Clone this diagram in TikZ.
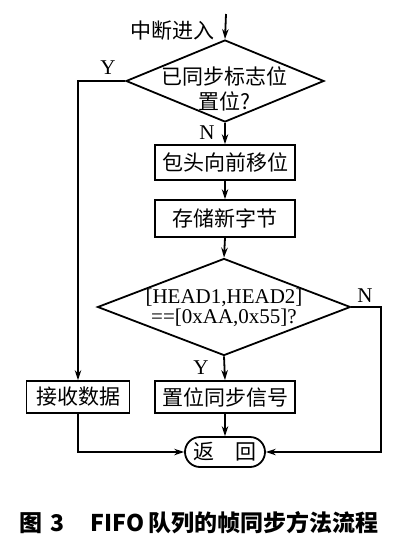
\documentclass[tikz,border=0pt]{standalone}
\usepackage{fontspec}
\setmainfont{Liberation Serif}
\newfontfamily\cjk{Noto Sans CJK SC}
\usetikzlibrary{shapes.geometric,arrows.meta}
\begin{document}
\begin{tikzpicture}[x=1pt,y=-1pt,
  line width=1.8pt,
  arr/.style={-{Stealth[length=10pt,width=6.5pt]}},
  proc/.style={draw, minimum width=140pt, inner sep=0pt, font=\cjk\fontsize{21}{23}\selectfont},
  dia/.style={draw, diamond, inner sep=0pt},
  txt/.style={inner sep=0pt, align=center},
  lbl/.style={inner sep=0pt, font=\fontsize{21}{21}\selectfont},
  ]
\useasboundingbox[fill=white] (0,0) rectangle (416,546);

\coordinate (start) at (226,14);
\node[txt, font=\cjk\fontsize{21}{23}\selectfont] (entry) at (172,31) {中断进入};

\node[dia, minimum width=198pt, minimum height=82pt] (d1) at (225,81) {};
\node[txt, font=\cjk\fontsize{21}{25}\selectfont] (d1t) at (224,89) {已同步标志位\\置位?};

\node[proc, minimum height=35pt] (b1) at (225,162.5) {包头向前移位};
\node[proc, minimum height=37pt] (b2) at (225,218.5) {存储新字节};

\node[dia, minimum width=253pt, minimum height=97pt] (d2) at (224,307) {};
\node[txt, font=\fontsize{21}{20}\selectfont] (d2t) at (224,308) {[HEAD1,HEAD2]\\==[0xAA,0x55]?};

\node[proc, minimum height=32pt] (b3) at (225,397) {置位同步信号};
\node[proc, minimum width=103pt, minimum height=32pt] (b4) at (78,397) {接收数据};

\node[draw, rounded corners=15pt, minimum width=80pt, minimum height=30pt, inner sep=0pt,
      font=\cjk\fontsize{21}{23}\selectfont] (ret) at (225,452) {返\hspace{22pt}回};

\coordinate (nr) at (381,307);

\node[lbl] (ly1) at (108,68) {Y};
\node[lbl] (ln1) at (207,133) {N};
\node[lbl] (ln2) at (365,296) {N};
\node[lbl] (ly2) at (201,368) {Y};

\draw[arr] (start) -- (d1.north);
\draw[arr] (d1.west) -| (b4.north);
\draw[arr] (d1.south) -- (b1.north);
\draw[arr] (b1.south) -- (b2.north);
\draw[arr] (b2.south) -- (d2.north);
\draw[arr] (d2.south) -- (b3.north);
\draw[arr] (d2.east) -- (nr) |- (ret.east);
\draw[arr] (b3.south) -- (ret.north);
\draw[arr] (b4.south) |- (ret.west);

\node[anchor=west, inner sep=0pt, font=\cjk\bfseries\fontsize{23}{25}\selectfont] (cap) at (19,523)
  {图\hspace{8pt}3\hspace{26pt}FIFO\hspace{4pt}队列的帧同步方法流程};
\end{tikzpicture}
\end{document}
